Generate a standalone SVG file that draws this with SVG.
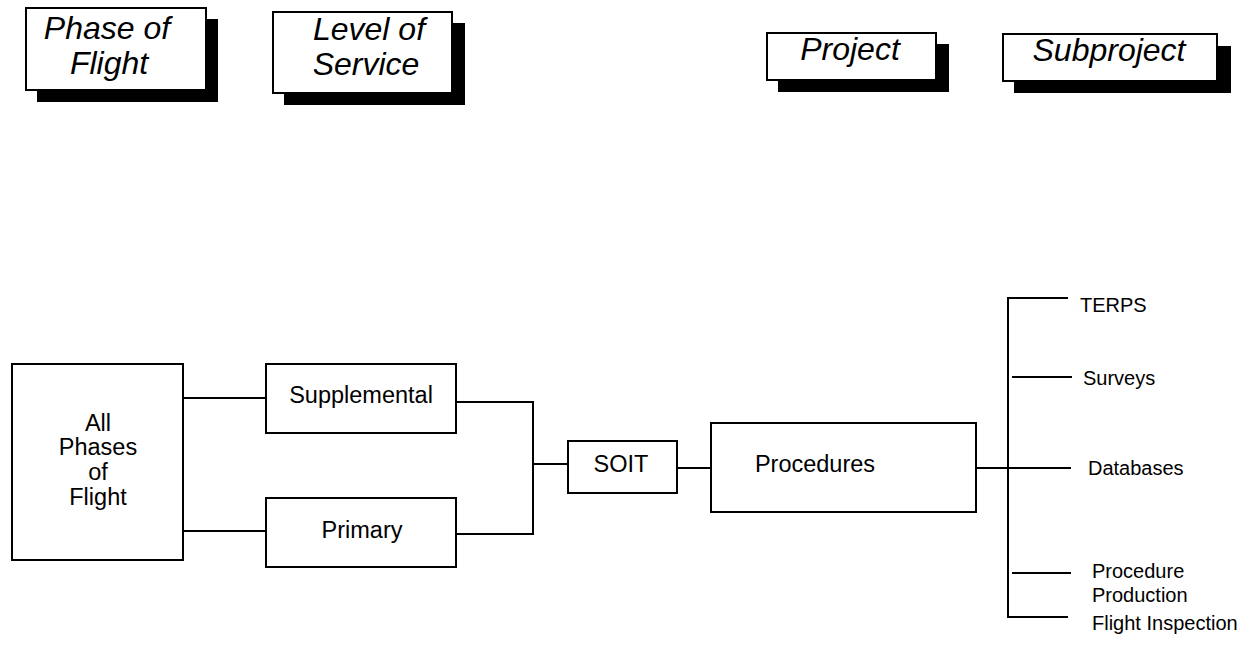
<svg xmlns="http://www.w3.org/2000/svg" width="1245" height="660" viewBox="0 0 1245 660">
<style>
  .box { fill: #fff; stroke: #000; stroke-width: 2; }
  .shadow { fill: #000; }
  .ln { fill: none; stroke: #000; stroke-width: 2; }
  .hdr { font-family: "Liberation Sans", Arial, sans-serif; font-style: italic; font-size: 32px; fill: #000; text-anchor: middle; }
  .lbl { font-family: "Liberation Sans", Arial, sans-serif; font-size: 23.5px; fill: #000; text-anchor: middle; }
  .sub { font-family: "Liberation Sans", Arial, sans-serif; font-size: 20px; fill: #000; }
</style>
<rect width="1245" height="660" fill="#fff"/>

<g id="hdr-phase">
  <rect class="shadow" x="37" y="19" width="181" height="83"/>
  <rect class="box" x="26" y="8" width="180" height="82"/>
  <text class="hdr" x="107" y="39">Phase of</text>
  <text class="hdr" x="109" y="74">Flight</text>
</g>
<g id="hdr-level">
  <rect class="shadow" x="284" y="23" width="181" height="82"/>
  <rect class="box" x="273" y="12" width="179" height="81"/>
  <text class="hdr" x="369" y="40">Level of</text>
  <text class="hdr" x="366" y="75">Service</text>
</g>
<g id="hdr-project">
  <rect class="shadow" x="778" y="44" width="171" height="48"/>
  <rect class="box" x="767" y="33" width="169" height="47"/>
  <text class="hdr" x="850" y="60">Project</text>
</g>
<g id="hdr-subproject">
  <rect class="shadow" x="1014" y="46" width="217" height="47"/>
  <rect class="box" x="1003" y="34" width="214" height="47"/>
  <text class="hdr" x="1109" y="61">Subproject</text>
</g>

<g id="connectors">
  <line class="ln" x1="183" y1="398" x2="266" y2="398"/>
  <line class="ln" x1="183" y1="531" x2="266" y2="531"/>
  <polyline class="ln" points="456,402 533,402 533,534 456,534"/>
  <line class="ln" x1="533" y1="464" x2="568" y2="464"/>
  <line class="ln" x1="677" y1="468" x2="711" y2="468"/>
  <line class="ln" x1="976" y1="468" x2="1071" y2="468"/>
  <polyline class="ln" points="1068,298 1008,298 1008,617 1068,617"/>
  <line class="ln" x1="1012" y1="377" x2="1072" y2="377"/>
  <line class="ln" x1="1012" y1="573" x2="1071" y2="573"/>
</g>

<g id="all-phases">
  <rect class="box" x="12" y="364" width="171" height="196"/>
  <text class="lbl" x="98" y="431">All</text>
  <text class="lbl" x="98" y="455">Phases</text>
  <text class="lbl" x="98" y="480">of</text>
  <text class="lbl" x="98" y="505">Flight</text>
</g>
<g id="supplemental">
  <rect class="box" x="266" y="364" width="190" height="69"/>
  <text class="lbl" x="361" y="403">Supplemental</text>
</g>
<g id="primary">
  <rect class="box" x="266" y="498" width="190" height="69"/>
  <text class="lbl" x="362" y="538">Primary</text>
</g>
<g id="soit">
  <rect class="box" x="568" y="441" width="109" height="52"/>
  <text class="lbl" x="621" y="472">SOIT</text>
</g>
<g id="procedures">
  <rect class="box" x="711" y="423" width="265" height="89"/>
  <text class="lbl" x="815" y="472">Procedures</text>
</g>
<g id="subprojects">
  <text class="sub" x="1080" y="312">TERPS</text>
  <text class="sub" x="1083" y="385">Surveys</text>
  <text class="sub" x="1088" y="475">Databases</text>
  <text class="sub" x="1092" y="578">Procedure</text>
  <text class="sub" x="1092" y="602">Production</text>
  <text class="sub" x="1092" y="630">Flight Inspection</text>
</g>
</svg>
